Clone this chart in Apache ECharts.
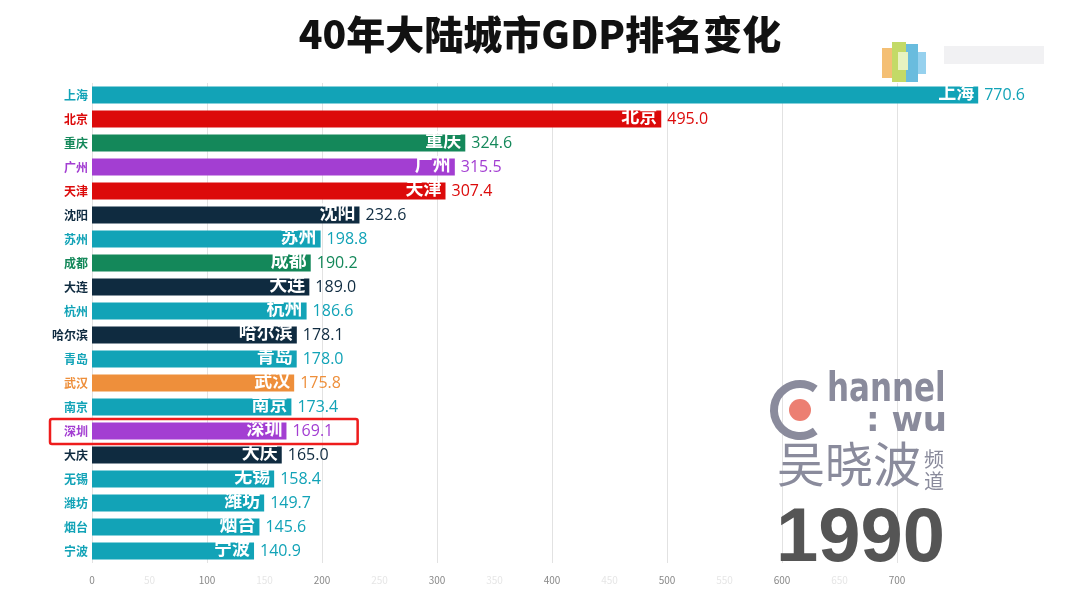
<!DOCTYPE html>
<html><head><meta charset="utf-8">
<script src="https://cdn.jsdelivr.net/npm/echarts@6/dist/echarts.min.js"></script>
<style>html,body{margin:0;padding:0;background:#fff}#c{width:1080px;height:609px}</style>
</head><body><div id="c"></div>
<script>
var titleText = '40年大陆城市GDP排名变化';
var yearText = '1990';
var cities = ['上海','北京','重庆','广州','天津','沈阳','苏州','成都','大连','杭州','哈尔滨','青岛','武汉','南京','深圳','大庆','无锡','潍坊','烟台','宁波'];
var gdp = [770.6,495.0,324.6,315.5,307.4,232.6,198.8,190.2,189.0,186.6,178.1,178.0,175.8,173.4,169.1,165.0,158.4,149.7,145.6,140.9];
var highlightCity = '深圳';

var TEAL='#12a3b7', RED='#dc0a0a', GREEN='#14885a', PURPLE='#a33ed2', NAVY='#0f2b40', ORANGE='#ee8f3b';
var cityColors = [TEAL,RED,GREEN,PURPLE,RED,NAVY,TEAL,GREEN,NAVY,TEAL,NAVY,TEAL,ORANGE,TEAL,PURPLE,NAVY,TEAL,TEAL,TEAL,TEAL];
var FONT = '"Noto Sans CJK SC", "Noto Sans", sans-serif';

var chart = echarts.init(document.getElementById('c'));
var option = {
  backgroundColor:'#fff',
  animation:false,
  title:{text:titleText,left:'center',top:10,textStyle:{fontSize:39,fontWeight:900,color:'#111',fontFamily:FONT}},
  grid:{left:92,right:125.5,top:83,bottom:46,containLabel:false},
  xAxis:{type:'value',min:0,max:750,interval:50,
    axisLine:{show:false},axisTick:{show:false},
    axisLabel:{fontSize:10,margin:12,fontFamily:FONT,
      formatter:function(v){return v>700?'':String(v);},
      color:function(v){return (v%100===0)?'#888':'#e6e6e6';}},
    splitLine:{show:true,lineStyle:{color:['#e2e2e2','rgba(0,0,0,0)'],width:1}}},
  yAxis:{type:'category',inverse:true,data:cities,
    axisLine:{show:false},axisTick:{show:false},
    axisLabel:{fontSize:12,fontWeight:'bold',margin:4,fontFamily:FONT,
      color:function(v,i){return cityColors[cities.indexOf(v)];}}},
  series:[{type:'bar',clip:false,barWidth:17,
    data:gdp.map(function(v,i){return {value:v,itemStyle:{color:cityColors[i]},label:{color:cityColors[i]}};}),
    label:{show:true,position:'right',distance:6,fontSize:16,fontFamily:'"Open Sans", sans-serif',
      formatter:function(p){return p.value.toFixed(1);}},
    z:2
  },{type:'bar',clip:false,barWidth:17,barGap:'-100%',
    data:gdp.map(function(v,i){return {value:v,itemStyle:{color:'rgba(0,0,0,0)'}};}),
    label:{show:true,position:'insideRight',distance:4,offset:[0,-3],fontSize:18,fontWeight:'bold',fontFamily:FONT,color:'#fff',
      formatter:function(p){return cities[p.dataIndex];}},
    z:3
  }]
};
chart.setOption(option);

var hi = cities.indexOf(highlightCity);
var pc = chart.convertToPixel({gridIndex:0},[0,hi]);
var pe = chart.convertToPixel({gridIndex:0},[231,hi]);
var GRAY='#8a8b9c';
var g = [
  {type:'rect',shape:{x:pc[0]-42,y:pc[1]-12,width:pe[0]-pc[0]+42,height:25,r:2},style:{fill:'none',stroke:'#ee1c1c',lineWidth:2.5},z:10},
  // watermark logo
  {type:'arc',shape:{cx:800,cy:410,r:26,startAngle:Math.PI*0.3,endAngle:Math.PI*1.7,clockwise:true},style:{fill:'none',stroke:GRAY,lineWidth:8},z:5},
  {type:'circle',shape:{cx:800,cy:410,r:11},style:{fill:'#ec7f72'},z:7},
  {type:'text',x:827,y:370,scaleX:0.84,style:{text:'hannel',font:'bold 41px "DejaVu Sans Condensed", "DejaVu Sans", sans-serif',fill:GRAY},z:7},
  {type:'text',left:866,top:405,style:{text:': wu',font:'bold 34px "DejaVu Sans", sans-serif',fill:GRAY},z:7},
  {type:'text',left:777,top:440,style:{text:'吴晓波',font:'48px "Noto Sans CJK SC", sans-serif',fill:GRAY},z:7},
  {type:'text',left:924,top:448,style:{text:'频\n道',font:'20px "Noto Sans CJK SC", sans-serif',fill:GRAY,lineHeight:22},z:7},
  {type:'text',left:776,top:502,style:{text:yearText,font:'bold 76px "Liberation Sans", "DejaVu Sans", sans-serif',fill:'#555'},z:7},
  // blurred top-right logo
  {type:'rect',shape:{x:882,y:48,width:10,height:30},style:{fill:'#f2b45c',opacity:0.85},z:4},
  {type:'rect',shape:{x:892,y:42,width:14,height:40},style:{fill:'#b9d34c',opacity:0.85},z:4},
  {type:'rect',shape:{x:898,y:52,width:10,height:18},style:{fill:'#e8f3c0'},z:5},
  {type:'rect',shape:{x:906,y:44,width:12,height:38},style:{fill:'#4fb0d8',opacity:0.85},z:4},
  {type:'rect',shape:{x:918,y:52,width:8,height:22},style:{fill:'#7cc6ea',opacity:0.8},z:4},
  {type:'rect',shape:{x:944,y:46,width:100,height:18},style:{fill:'#f1f1f3'},z:4}
];
chart.setOption({graphic:g});
</script></body></html>
